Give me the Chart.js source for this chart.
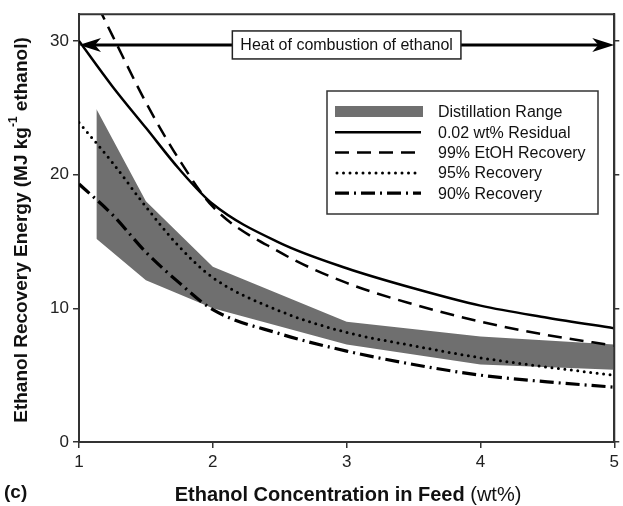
<!DOCTYPE html>
<html>
<head>
<meta charset="utf-8">
<script src="https://cdn.jsdelivr.net/npm/chart.js@4"></script>
<style>html,body{margin:0;padding:0;background:#fff}</style>
</head>
<body>
<canvas id="chart" width="623" height="506"></canvas>
<script>
// Feed concentration (wt%) grid for the curves
const feed = [1, 1.25, 1.5, 1.75, 2, 2.5, 3, 3.5, 4, 4.5, 5];
const residual = [30.0, 26.6, 23.5, 20.4, 17.8, 14.9, 13.0, 11.5, 10.2, 9.3, 8.5];
const etohRecovery99 = [35.5, 30.4, 25.4, 21.1, 17.6, 14.2, 11.9, 10.3, 9.0, 8.0, 7.2];
const recovery95 = [23.9, 20.9, 17.6, 14.6, 12.3, 9.8, 8.2, 7.2, 6.3, 5.6, 5.0];
const recovery90 = [19.3, 17.0, 14.2, 11.9, 9.9, 8.1, 6.8, 5.8, 5.0, 4.5, 4.1];

// Distillation range band
const bandFeed = [1.13, 1.5, 2, 3, 4, 5];
const bandLow = [15.2, 12.1, 10.0, 7.3, 5.8, 5.4];
const bandHigh = [24.9, 18.0, 13.1, 9.0, 7.9, 7.3];

const heatOfCombustion = 29.7;
const xTicks = [1, 2, 3, 4, 5];

const pts = (xs, ys) => xs.map((x, i) => ({x: x, y: ys[i]}));
const FONT = '"Liberation Sans", Arial, sans-serif';
const BAND = '#6f6f6f';

function lineSet(label, data, dash, width) {
    return {
        label: label,
        data: pts(feed, data),
        borderColor: '#000',
        borderWidth: width,
        borderDash: dash,
        borderCapStyle: dash.length === 2 && dash[0] === 0 ? 'round' : 'butt',
        pointRadius: 0,
        fill: false,
        cubicInterpolationMode: 'monotone',
        order: 0,
    };
}

const decor = {
    id: 'decor',
    afterDraw(chart) {
        const ctx = chart.ctx;
        const a = chart.chartArea;
        const xs = chart.scales.x, ys = chart.scales.y;
        ctx.save();

        // frame top and right
        ctx.strokeStyle = '#333';
        ctx.lineWidth = 2;
        ctx.beginPath();
        ctx.moveTo(a.left, a.top);
        ctx.lineTo(a.right, a.top);
        ctx.lineTo(a.right, a.bottom);
        ctx.stroke();

        // heat of combustion double arrow
        const yh = ys.getPixelForValue(heatOfCombustion);
        const x0 = xs.getPixelForValue(1), x1 = xs.getPixelForValue(5);
        ctx.strokeStyle = '#000';
        ctx.fillStyle = '#000';
        ctx.lineWidth = 3;
        ctx.beginPath();
        ctx.moveTo(x0 + 10, yh);
        ctx.lineTo(x1 - 10, yh);
        ctx.stroke();
        [[x0, 1], [x1, -1]].forEach(([px, d]) => {
            ctx.beginPath();
            ctx.moveTo(px, yh);
            ctx.lineTo(px + d * 22, yh - 7);
            ctx.lineTo(px + d * 16, yh);
            ctx.lineTo(px + d * 22, yh + 7);
            ctx.closePath();
            ctx.fill();
        });
        const label = 'Heat of combustion of ethanol';
        ctx.font = '16px ' + FONT;
        const tw = ctx.measureText(label).width;
        const cx = xs.getPixelForValue(3);
        ctx.fillStyle = '#fff';
        ctx.fillRect(cx - tw / 2 - 8, yh - 14, tw + 16, 28);
        ctx.strokeStyle = '#222';
        ctx.lineWidth = 1.5;
        ctx.strokeRect(cx - tw / 2 - 8, yh - 14, tw + 16, 28);
        ctx.fillStyle = '#111';
        ctx.textBaseline = 'middle';
        ctx.textAlign = 'center';
        ctx.fillText(label, cx, yh + 1);

        // legend
        const lx = 327, ly = 91, lw = 271, lh = 123;
        ctx.fillStyle = '#fff';
        ctx.fillRect(lx, ly, lw, lh);
        ctx.strokeStyle = '#333';
        ctx.lineWidth = 1.5;
        ctx.strokeRect(lx, ly, lw, lh);
        const rows = [
            ['Distillation Range', null],
            ['0.02 wt% Residual', []],
            ['99% EtOH Recovery', [14, 8]],
            ['95% Recovery', [0, 6.5]],
            ['90% Recovery', [14, 5, 2, 5]],
        ];
        ctx.textAlign = 'left';
        ctx.font = '16px ' + FONT;
        rows.forEach(([t, dash], i) => {
            const ry = 112 + i * 20.3;
            if (dash === null) {
                ctx.fillStyle = BAND;
                ctx.fillRect(335, ry - 6, 88, 11);
            } else {
                ctx.strokeStyle = '#000';
                ctx.lineWidth = i === 3 ? 3 : (i === 4 ? 3.2 : 2.5);
                ctx.lineCap = i === 3 ? 'round' : 'butt';
                ctx.setLineDash(dash);
                ctx.beginPath();
                ctx.moveTo(i === 3 ? 337 : 335, ry);
                ctx.lineTo(421, ry);
                ctx.stroke();
                ctx.setLineDash([]);
                ctx.lineCap = 'butt';
            }
            ctx.fillStyle = '#111';
            ctx.fillText(t, 438, ry + 1);
        });

        // y axis title with superscript
        ctx.save();
        ctx.translate(22, 230);
        ctx.rotate(-Math.PI / 2);
        const bold = 'bold 19px ' + FONT;
        const sup = 'bold 12px ' + FONT;
        const parts = [
            ['Ethanol Recovery Energy (MJ kg', bold, 0],
            ['-1', sup, -8],
            [' ethanol)', bold, 0],
        ];
        let total = 0;
        parts.forEach(p => { ctx.font = p[1]; total += ctx.measureText(p[0]).width; });
        let px = -total / 2;
        ctx.fillStyle = '#111';
        ctx.textAlign = 'left';
        ctx.textBaseline = 'middle';
        parts.forEach(p => {
            ctx.font = p[1];
            ctx.fillText(p[0], px, p[2]);
            px += ctx.measureText(p[0]).width;
        });
        ctx.restore();

        // x axis title: bold part + regular "(wt%)"
        const xb = 'Ethanol Concentration in Feed ';
        const xr = '(wt%)';
        ctx.font = 'bold 20px ' + FONT;
        const wb = ctx.measureText(xb).width;
        ctx.font = '20px ' + FONT;
        const wr = ctx.measureText(xr).width;
        let sx = 348 - (wb + wr) / 2;
        ctx.textAlign = 'left';
        ctx.textBaseline = 'middle';
        ctx.fillStyle = '#111';
        ctx.font = 'bold 20px ' + FONT;
        ctx.fillText(xb, sx, 495);
        ctx.font = '20px ' + FONT;
        ctx.fillText(xr, sx + wb, 495);

        ctx.font = 'bold 19px ' + FONT;
        ctx.fillText('(c)', 4, 493);
        ctx.restore();
    }
};

new Chart(document.getElementById('chart').getContext('2d'), {
    type: 'line',
    data: {
        datasets: [
            {
                label: 'Distillation Range low',
                data: pts(bandFeed, bandLow),
                borderWidth: 0,
                borderColor: 'rgba(0,0,0,0)',
                pointRadius: 0,
                fill: false,
                tension: 0,
                order: 10,
            },
            {
                label: 'Distillation Range',
                data: pts(bandFeed, bandHigh),
                borderWidth: 0,
                borderColor: 'rgba(0,0,0,0)',
                backgroundColor: BAND,
                pointRadius: 0,
                fill: '-1',
                tension: 0,
                order: 9,
            },
            lineSet('0.02 wt% Residual', residual, [], 2.5),
            lineSet('99% EtOH Recovery', etohRecovery99, [14, 8], 2.5),
            lineSet('95% Recovery', recovery95, [0, 6.5], 3),
            lineSet('90% Recovery', recovery90, [14, 5, 2, 5], 3.2),
        ],
    },
    options: {
        responsive: false,
        devicePixelRatio: 1,
        animation: false,
        layout: {padding: {top: 13, left: 0, right: 0, bottom: 0}},
        plugins: {legend: {display: false}, tooltip: {enabled: false}},
        scales: {
            x: {
                type: 'linear',
                min: 1,
                max: 5,
                afterBuildTicks: s => { s.ticks = xTicks.map(v => ({value: v})); },
                ticks: {color: '#222', font: {size: 17, family: FONT}, padding: 4},
                grid: {drawOnChartArea: false, tickLength: 6, color: '#333', lineWidth: 1.5},
                border: {color: '#333', width: 2},
                afterFit: s => { s.height = 64; },
            },
            y: {
                min: 0,
                max: 32,
                ticks: {stepSize: 10, includeBounds: false, color: '#222', font: {size: 17, family: FONT}, padding: 4},
                grid: {drawOnChartArea: false, tickLength: 6, color: '#333', lineWidth: 1.5},
                border: {color: '#333', width: 2},
                afterFit: s => { s.width = 79; },
            },
            y2: {
                position: 'right',
                min: 0,
                max: 32,
                ticks: {stepSize: 10, includeBounds: false, display: false},
                grid: {drawOnChartArea: false, tickLength: 5, color: '#333', lineWidth: 1.5},
                border: {color: '#333', width: 2},
                afterFit: s => { s.width = 6; },
            },
        },
    },
    plugins: [decor],
});
</script>
</body>
</html>
